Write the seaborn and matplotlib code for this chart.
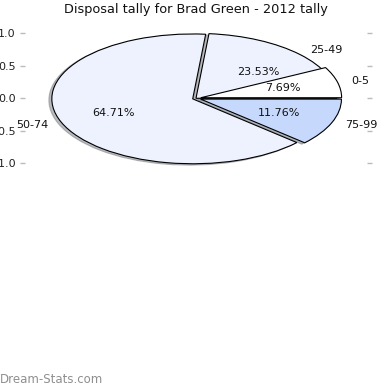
import matplotlib
matplotlib.use("Agg")
import matplotlib.pyplot as plt
import seaborn as sns

# Data
main_labels = ["25-49", "50-74", "75-99"]
main_pcts = [23.53, 64.71, 11.76]
extra_labels = ["0-5"]
extra_pcts = [7.69]
title = "Disposal tally for Brad Green - 2012 tally"
yticks = [-1.0, -0.5, 0.0, 0.5, 1.0]

sns.set_style("white")
plt.rcParams["font.family"] = ["DejaVu Sans"]

main_colors = ["#edf2fe", "#edf2fe", "#c6d9fd"]
extra_colors = ["#ffffff"]

fig = plt.figure(figsize=(3.9, 3.9), dpi=100)
ax = fig.add_axes([0.051, 0.540, 0.903, 0.416])

wedge_kw = dict(edgecolor="black", linewidth=0.8)
txt_kw = dict(fontsize=8, color="#111111")
shadow_kw = {"ox": -0.015, "oy": -0.015, "shade": 0.5}

ax.pie([p / 100 for p in main_pcts], labels=main_labels, colors=main_colors,
       explode=[0.0, 0.025, 0.035], autopct="%.2f%%", shadow=shadow_kw,
       startangle=0, normalize=True, wedgeprops=wedge_kw, textprops=txt_kw,
       frame=False)
ax.pie([p / 100 for p in extra_pcts], labels=extra_labels, colors=extra_colors,
       explode=[0.035], autopct="%.2f%%", shadow=shadow_kw, startangle=0,
       normalize=False, wedgeprops=wedge_kw, textprops=txt_kw, frame=False)

ax.set_aspect("auto")
ax.set_xlim(-1.25, 1.25)
ax.set_ylim(-1.25, 1.25)
ax.set_frame_on(False)
ax.set_xticks([])
ax.set_yticks(yticks)
ax.set_yticklabels([f"{t:.1f}" for t in yticks])
ax.tick_params(axis="y", which="both", left=True, right=True, labelleft=True,
               labelright=False, direction="in", length=3.5, width=1,
               color="#bbbbbb", labelsize=8, labelcolor="#222222", pad=3)

ax.set_title(title, fontsize=9.3, pad=3, color="#111111")

fig.text(0.0, 0.028, "Dream-Stats.com", fontsize=8.5, color="#8f8f8f",
         ha="left", va="center")

fig.savefig("out.png", dpi=100)
